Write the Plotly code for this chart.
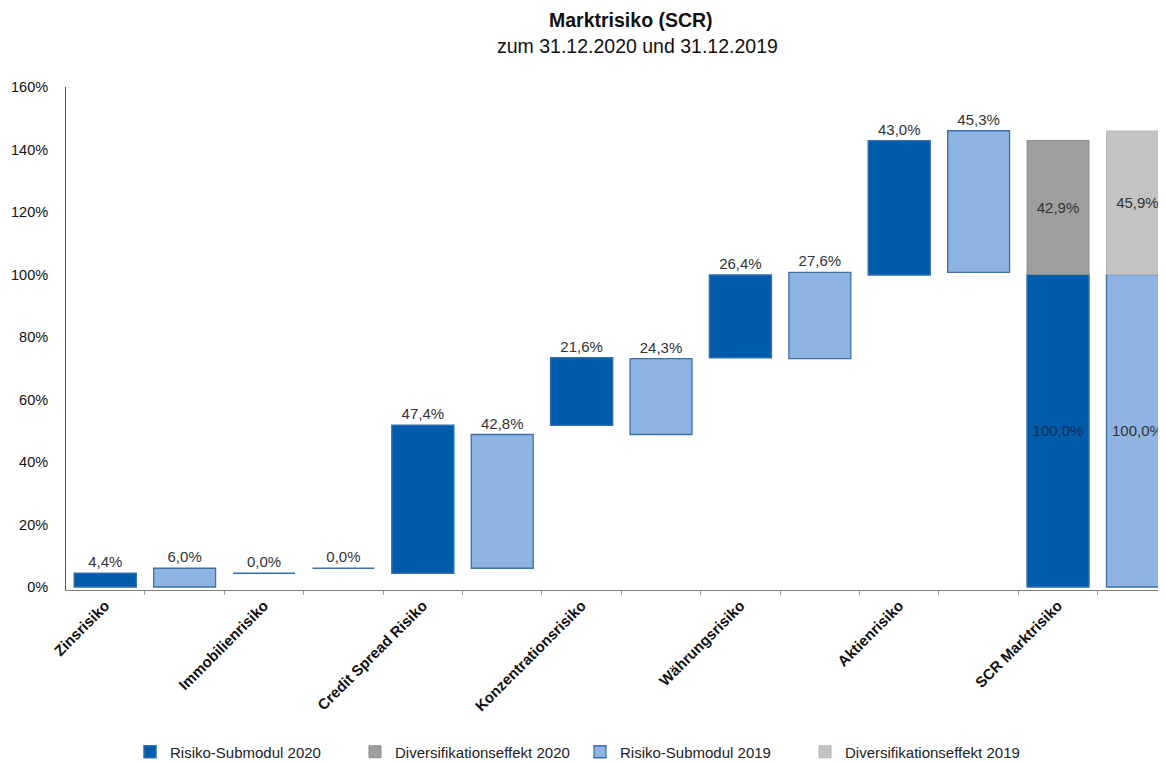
import plotly.graph_objects as go

# ---- data ----
categories = ["Zinsrisiko", "Immobilienrisiko", "Credit Spread Risiko",
              "Konzentrationsrisiko", "Währungsrisiko", "Aktienrisiko", "SCR Marktrisiko"]
submodul_2020 = [4.4, 0.0, 47.4, 21.6, 26.4, 43.0]
submodul_2019 = [6.0, 0.0, 42.8, 24.3, 27.6, 45.3]
scr_base_2020 = 100.0
scr_base_2019 = 100.0
divers_2020 = 42.9
divers_2019 = 45.9
y_ticks = [0, 20, 40, 60, 80, 100, 120, 140, 160]

def fmt(v):
    return f"{v:.1f}".replace(".", ",") + "%"

def cum_bases(vals):
    out, s = [], 0.0
    for v in vals:
        out.append(s)
        s += v
    return out

n = len(submodul_2020)
x2020 = [2 * i for i in range(n)] + [2 * n]
x2019 = [2 * i + 1 for i in range(n)] + [2 * n + 1]

C_DARK = "#005BAA"
C_LIGHT = "#8DB4E2"
C_GRAY20 = "#9E9E9E"
C_GRAY19 = "#C3C3C3"
TXT = "#333333"
W = 0.78
FONT = "Liberation Sans, Arial, sans-serif"

# The page body has an 8px margin, so figure coords = page coords - 8.
OFF = 8
FW, FH = 1166 - OFF, 762 - OFF
PL, PR, PT, PB = 66 - OFF, 1166 - OFF, 87 - OFF, 590 - OFF
def px_x(page_x):
    return (page_x - OFF - PL) / (PR - PL)
def px_y(page_y):
    return (PB - (page_y - OFF)) / (PB - PT)

fig = go.Figure()

fig.add_trace(go.Bar(
    name="Risiko-Submodul 2020",
    x=x2020,
    y=submodul_2020 + [scr_base_2020],
    base=cum_bases(submodul_2020) + [0],
    width=W,
    marker=dict(color=C_DARK, line=dict(color="#2F6DB0", width=1.5)),
    text=[fmt(v) for v in submodul_2020 + [scr_base_2020]],
    textposition=["outside"] * n + ["inside"],
    insidetextanchor="middle",
    textangle=0,
    outsidetextfont=dict(size=15, color=TXT),
    insidetextfont=dict(size=15, color="#0B2E55"),
    cliponaxis=False,
))
fig.add_trace(go.Bar(
    name="Diversifikationseffekt 2020",
    x=[2 * n],
    y=[divers_2020],
    base=[scr_base_2020],
    width=W,
    marker=dict(color=C_GRAY20, line=dict(color="#8C8C8C", width=1)),
    text=[fmt(divers_2020)],
    textposition="inside",
    insidetextanchor="middle",
    textangle=0,
    insidetextfont=dict(size=15, color=TXT),
))
fig.add_trace(go.Bar(
    name="Risiko-Submodul 2019",
    x=x2019,
    y=submodul_2019 + [scr_base_2019],
    base=cum_bases(submodul_2019) + [0],
    width=W,
    marker=dict(color=C_LIGHT, line=dict(color="#3D6FA8", width=1.3)),
    text=[fmt(v) for v in submodul_2019 + [scr_base_2019]],
    textposition=["outside"] * n + ["inside"],
    insidetextanchor="middle",
    textangle=0,
    outsidetextfont=dict(size=15, color=TXT),
    insidetextfont=dict(size=15, color=TXT),
    cliponaxis=False,
))
fig.add_trace(go.Bar(
    name="Diversifikationseffekt 2019",
    x=[2 * n + 1],
    y=[divers_2019],
    base=[scr_base_2019],
    width=W,
    marker=dict(color=C_GRAY19, line=dict(color="#B5B5B5", width=1)),
    text=[fmt(divers_2019)],
    textposition="inside",
    insidetextanchor="middle",
    textangle=0,
    insidetextfont=dict(size=15, color=TXT),
))

fig.update_layout(
    width=FW, height=FH,
    margin=dict(l=PL, r=FW - PR, t=PT, b=FH - PB, autoexpand=False),
    paper_bgcolor="white",
    plot_bgcolor="white",
    barmode="overlay",
    font=dict(family=FONT, color="#222"),
    uniformtext=dict(minsize=12, mode="show"),
    showlegend=True,
    legend=dict(
        orientation="h",
        x=px_x(130), xanchor="left",
        y=px_y(752), yanchor="middle",
        entrywidth=180, entrywidthmode="pixels",
        font=dict(size=15, color="#222"),
        itemwidth=30,
        traceorder="normal",
    ),
    xaxis=dict(
        range=[-0.494, 13.36],
        automargin=False,
        tickmode="array",
        tickvals=[2 * i for i in range(len(categories))],
        ticktext=categories,
        tickangle=-45,
        tickfont=dict(size=15, color="#111", family=FONT, weight="bold"),
        ticks="",
        showline=True, linecolor="#7F7F7F", linewidth=1,
        showgrid=False, zeroline=False,
        minor=dict(tick0=0.5, dtick=1, ticks="outside", ticklen=4, tickcolor="#9A9A9A", showgrid=False),
    ),
    yaxis=dict(
        range=[-0.96, 160],
        automargin=False,
        tickmode="array",
        tickvals=y_ticks,
        ticktext=[f"{v}%" for v in y_ticks],
        tickfont=dict(size=14.5, color="#111"),
        showline=True, linecolor="#555555", linewidth=1,
        showgrid=False, zeroline=False,
        ticks="",
        ticklabelstandoff=14,
    ),
    annotations=[
        dict(text="<b>Marktrisiko (SCR)</b>", x=px_x(631), y=px_y(20),
             xref="paper", yref="paper", xanchor="center", yanchor="middle",
             showarrow=False, font=dict(size=19.5, color="#111")),
        dict(text="zum 31.12.2020 und 31.12.2019", x=px_x(637), y=px_y(46),
             xref="paper", yref="paper", xanchor="center", yanchor="middle",
             showarrow=False, font=dict(size=19.5, color="#111")),
    ],
)

fig.write_html("out.html", config={"displayModeBar": False})
